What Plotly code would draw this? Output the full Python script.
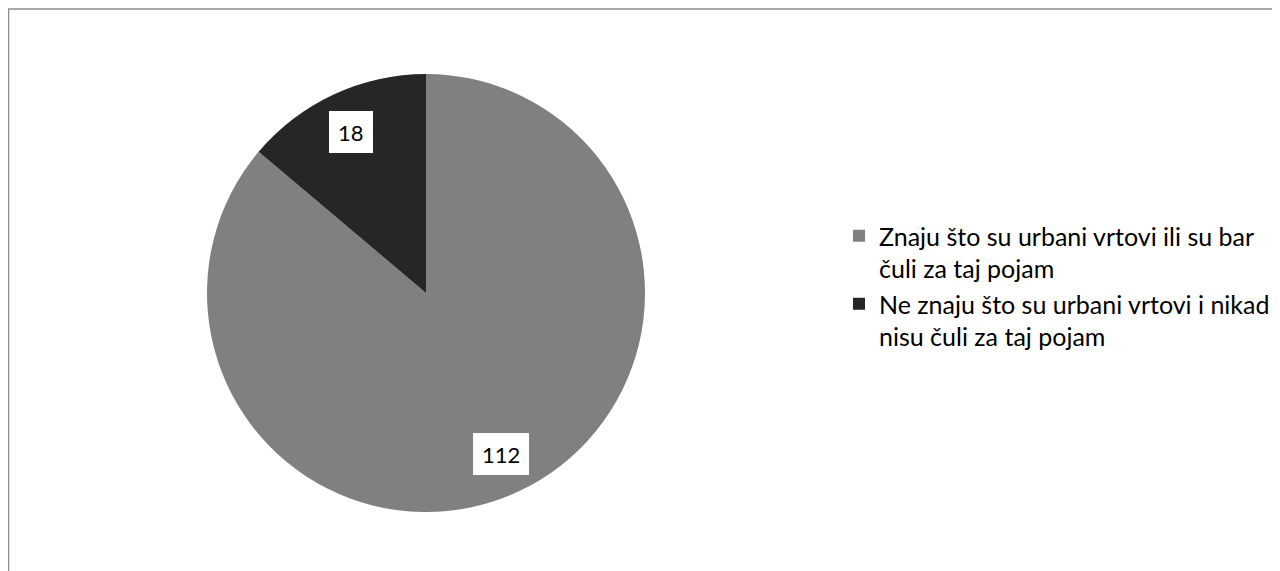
import math
import plotly.graph_objects as go

labels = ["Znaju što su urbani vrtovi ili su bar<br>čuli za taj pojam",
          "Ne znaju što su urbani vrtovi i nikad<br>nisu čuli za taj pojam"]
values = [112, 18]
colors = ["#808080", "#262626"]

W, H = 1280, 571
OFF = 8  # page body margin offset
cx, cy, R = 426 - OFF, 293 - OFF, 219  # pixel geometry of pie (figure coords)

fig = go.Figure()
fig.add_trace(go.Pie(
    labels=labels, values=values, sort=False, direction="clockwise", rotation=0,
    marker=dict(colors=colors, line=dict(width=0)),
    textinfo="none", hoverinfo="label+value",
    domain=dict(x=[(cx - R) / W, (cx + R) / W], y=[1 - (cy + R) / H, 1 - (cy - R) / H]),
))

# data labels placed at a fraction of the radius along each slice's mid-angle
total = sum(values)
start = 0.0
for v in values:
    mid = start + v / total * 360 / 2
    start += v / total * 360
    rr = 0.81 * R
    px = cx + rr * math.sin(math.radians(mid))
    py = cy - rr * math.cos(math.radians(mid))
    fig.add_annotation(x=px / W, y=1 - py / H, xref="paper", yref="paper",
                       xanchor="center", yanchor="middle",
                       text=str(v), showarrow=False, bgcolor="white",
                       borderwidth=0, borderpad=9, height=24,
                       font=dict(family="Lato", size=22, color="black"))

fig.update_layout(
    width=W, height=H,
    margin=dict(l=0, r=0, t=0, b=0),
    paper_bgcolor="white", plot_bgcolor="white",
    showlegend=True,
    legend=dict(x=(839 - OFF) / W, y=1 - (213 - OFF) / H, xanchor="left", yanchor="top",
                font=dict(family="Lato", size=25, color="#000000"),
                valign="top", itemsizing="constant"),
    shapes=[
        dict(type="line", xref="paper", yref="paper", x0=0, x1=1,
             y0=1 - (9 - OFF) / H, y1=1 - (9 - OFF) / H,
             line=dict(color="#8c8c8c", width=1.5)),
        dict(type="line", xref="paper", yref="paper", x0=0.5 / W, x1=0.5 / W,
             y0=0, y1=1 - (9 - OFF) / H,
             line=dict(color="#8c8c8c", width=1.5)),
    ],
)

fig.write_html("out.html")
